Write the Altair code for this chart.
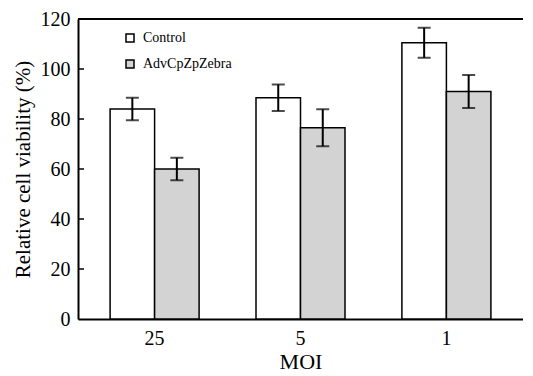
import altair as alt
import pandas as pd

moi = ["25", "5", "1"]
groups = ["Control", "AdvCpZpZebra"]
control = [84, 88.5, 110.5]
control_err = [4.5, 5.3, 6.0]
adv = [60, 76.5, 91]
adv_err = [4.5, 7.4, 6.6]
y_ticks = [0, 20, 40, 60, 80, 100, 120]

rows = []
for i, m in enumerate(moi):
    rows.append({"MOI": m, "group": groups[0], "value": control[i],
                 "lo": control[i] - control_err[i], "hi": control[i] + control_err[i]})
    rows.append({"MOI": m, "group": groups[1], "value": adv[i],
                 "lo": adv[i] - adv_err[i], "hi": adv[i] + adv_err[i]})
df = pd.DataFrame(rows)
ticks_df = pd.DataFrame({"v": y_ticks[1:-1]})
top_df = pd.DataFrame({"v": [y_ticks[-1]]})

FONT = "'Liberation Serif', 'Times New Roman', Times, serif"

x = alt.X("MOI:N", sort=moi,
          scale=alt.Scale(paddingInner=0.39, paddingOuter=0.22),
          axis=alt.Axis(title="MOI", labelAngle=0, ticks=False, labelPadding=9,
                        titlePadding=3, domainColor="black", domainWidth=2,
                        labelFont=FONT, labelFontSize=20, titleFont=FONT,
                        titleFontSize=22, titleFontWeight="normal",
                        labelColor="black", titleColor="black"))
xo = alt.XOffset("group:N", sort=groups,
                 scale=alt.Scale(paddingInner=0, paddingOuter=0))
yscale = alt.Scale(domain=[0, 120], nice=False)

bars = alt.Chart(df).mark_bar(stroke="black", strokeWidth=1.5).encode(
    x=x,
    xOffset=xo,
    y=alt.Y("value:Q", scale=yscale,
            axis=alt.Axis(title="Relative cell viability (%)", values=y_ticks,
                          ticks=False, grid=False, labelPadding=8, titlePadding=7,
                          domainColor="black", domainWidth=2,
                          labelFont=FONT, labelFontSize=20, titleFont=FONT,
                          titleFontSize=21, titleFontWeight="normal",
                          labelColor="black", titleColor="black")),
    color=alt.Color("group:N", scale=alt.Scale(domain=groups, range=["white", "#d3d3d3"]),
                    legend=alt.Legend(title=None, orient="none", legendX=45, legendY=12,
                                      symbolType="square", symbolSize=64,
                                      symbolStrokeColor="black", symbolStrokeWidth=1.5,
                                      labelFont=FONT, labelFontSize=14, labelColor="black",
                                      rowPadding=12, labelOffset=6, padding=0)),
)

err_rule = alt.Chart(df).mark_rule(color="black", strokeWidth=2).encode(
    x=alt.X("MOI:N", sort=moi), xOffset=xo,
    y=alt.Y("lo:Q", scale=yscale), y2="hi:Q")
cap_lo = alt.Chart(df).mark_tick(color="black", thickness=2, size=13).encode(
    x=alt.X("MOI:N", sort=moi), xOffset=xo, y=alt.Y("lo:Q", scale=yscale))
cap_hi = alt.Chart(df).mark_tick(color="black", thickness=2, size=13).encode(
    x=alt.X("MOI:N", sort=moi), xOffset=xo, y=alt.Y("hi:Q", scale=yscale))

inner_ticks = alt.Chart(ticks_df).mark_rule(color="black", strokeWidth=1.5).encode(
    y=alt.Y("v:Q", scale=yscale), x=alt.value(0), x2=alt.value(6))
top_line = alt.Chart(top_df).mark_rule(color="black", strokeWidth=2).encode(
    y=alt.Y("v:Q", scale=yscale), x=alt.value(0), x2=alt.value(460))

chart = alt.layer(bars, err_rule, cap_lo, cap_hi, inner_ticks, top_line).properties(
    width=445, height=300,
    autosize=alt.AutoSizeParams(type="none"),
    padding={"left": 70, "top": 11, "right": 0, "bottom": 57},
).configure_view(stroke="transparent").configure(background="white")

chart.save("out.html", embed_options={"renderer": "svg", "actions": False})
